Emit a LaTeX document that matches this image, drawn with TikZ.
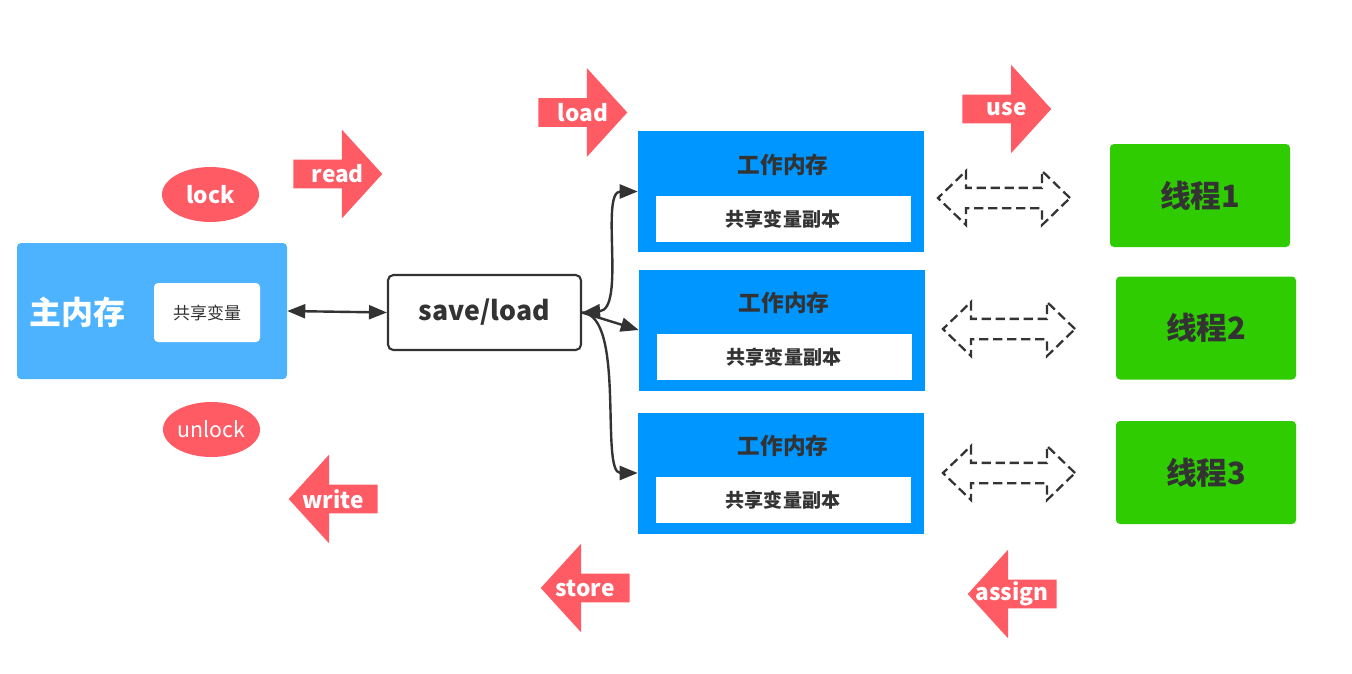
\documentclass[tikz,border=0pt]{standalone}
\usepackage{fontspec}
\setmainfont{Noto Sans CJK SC}
\usetikzlibrary{arrows.meta,positioning,calc,shapes.geometric,shapes.arrows}
\definecolor{cRed}{HTML}{FF5B65}
\definecolor{cMain}{HTML}{4DB3FF}
\definecolor{cWork}{HTML}{0096FF}
\definecolor{cThr}{HTML}{2ECC00}
\definecolor{cInk}{HTML}{333333}
\tikzset{
  blk/.style={single arrow,fill=cRed,inner xsep=0pt,inner ysep=10.5pt,
              minimum height=66.75pt,single arrow head extend=22.5pt,
              single arrow tip angle=95.4,anchor=tail},
  lblk/.style={blk,shape border rotate=180},
  tagtxt/.style={text=white,font=\bfseries\fontsize{17}{17}\selectfont},
  oval/.style={ellipse,fill=cRed,minimum width=72.75pt,minimum height=41.25pt,
               inner sep=0pt},
  wbox/.style={fill=cWork,minimum width=214.5pt,minimum height=90.75pt},
  wtitle/.style={text=cInk,font=\bfseries\fontsize{17}{17}\selectfont},
  cbox/.style={fill=white,minimum width=191.25pt,minimum height=34.5pt,text=cInk,
               font=\bfseries\fontsize{14.3}{14.3}\selectfont},
  thr/.style={rounded corners=3pt,fill=cThr,minimum width=135pt,minimum height=77.25pt,
              text=cInk,font=\bfseries\fontsize{23}{23}\selectfont},
  xfer/.style={double arrow,draw=cInk,line width=1.7pt,dash pattern=on 7pt off 3.5pt,
               inner xsep=0pt,inner ysep=6.75pt,minimum height=99pt,
               double arrow head extend=12.75pt,double arrow tip angle=88},
  lnk/.style={line width=1.8pt,cInk},
}

\begin{document}
\begin{tikzpicture}[x=0.75pt,y=-0.75pt,>={Triangle[length=13.5pt,width=10.5pt]}]
  \useasboundingbox (0,0) rectangle (1352,674);

  % main memory
  \node[fill=cMain,rounded corners=3pt,minimum width=202.5pt,minimum height=102pt] (mm) at (152,311) {};
  \node[text=white,font=\bfseries\fontsize{24}{24}\selectfont] (mmlbl) at (77,312) {主内存};
  \node[fill=white,rounded corners=3pt,minimum width=79.5pt,minimum height=44.25pt,
        text=cInk,font=\fontsize{12.75}{12.75}\selectfont] (var) at (207,312.5) {共享变量};
  \node[oval,tagtxt] (lock) at (210.5,194.5) {lock};
  \node[oval,text=white,font=\fontsize{16}{16}\selectfont] (unlock) at (211.5,429.5) {unlock};

  % save/load
  \node[draw=cInk,line width=1.6pt,rounded corners=4pt,fill=white,minimum width=144.75pt,
        minimum height=56.25pt,text=cInk,font=\bfseries\fontsize{20}{20}\selectfont] (sl) at (484.5,312.5) {save/load};

  % working memory
  \foreach \i/\x/\y in {1/781/191.5,2/782/330,3/781/473}{
    \node[wbox] (w\i) at (\x,\y) {};
    \node[wtitle] (wt\i) at ($(w\i.north)+(2,34)$) {工作内存};
    \node[cbox] (c\i) at ($(w\i.north)+(2,88)$) {共享变量副本};
  }

  % threads
  \node[thr] (t1) at (1200,195.5) {线程1};
  \node[thr] (t2) at (1206,328) {线程2};
  \node[thr] (t3) at (1206,472.5) {线程3};
  \node[xfer] (d1) at (1004,198) {};
  \node[xfer] (d2) at (1009,329) {};
  \node[xfer] (d3) at (1009,473) {};

  % operations
  \foreach \nm/\st/\x/\y in {read/blk/293/174,load/blk/538/112.5,use/blk/962/109,
                            write/lblk/378/499,store/lblk/630/588,assign/lblk/1057/594}{
    \node[\st] (\nm) at (\x,\y) {};
    \node[tagtxt] (\nm txt) at ($(\nm.tail)!.5!(\nm.tip)$) {\nm};
  }

  % links
  \draw[lnk,<->] (mm.east) -- (sl.west);
  \draw[lnk,<->] (sl.east) .. controls +(44,-3) and +(-38,0) .. (w1.west);
  \draw[lnk,->] (sl.east) -- (w2.west);
  \draw[lnk,->] (sl.east) .. controls +(44,3) and +(-38,0) .. (w3.west);
\end{tikzpicture}
\end{document}
